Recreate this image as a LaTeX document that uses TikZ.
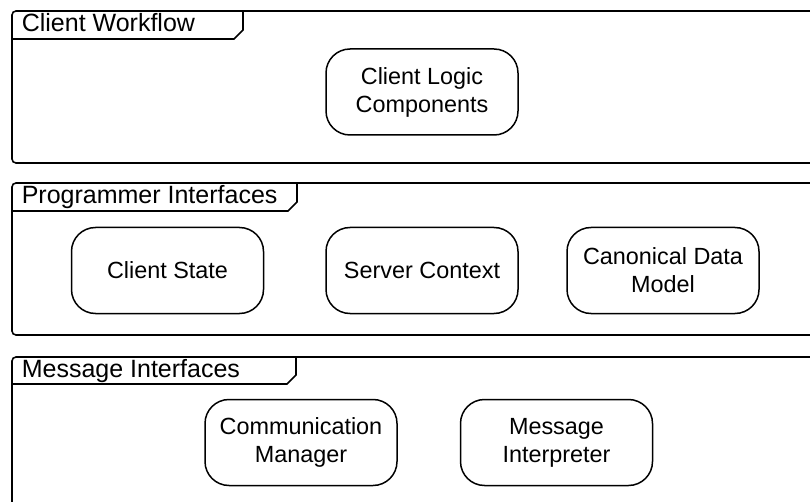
\documentclass[tikz,border=0pt]{standalone}
\usepackage{fontspec}
\setmainfont{Liberation Sans}
\begin{document}
\begin{tikzpicture}[x=1pt,y=-1pt,
  line width=1.6pt,
  comp/.style={draw, rounded corners=24pt, minimum width=192pt, minimum height=86pt,
    align=center, font=\fontsize{23.4}{28}\selectfont, inner sep=0pt, line width=1.5pt},
  frametitle/.style={anchor=base west, inner sep=0pt, font=\fontsize{25}{28}\selectfont}]
\useasboundingbox (0,0) rectangle (810,502);
\clip (0,0) rectangle (810,502);
% Frame 1
\draw[rounded corners=4pt] (830,163) -- (12,163) -- (12,11) -- (830,11);
\draw (12,39) -- (234,39) -- (243,30) -- (243,11);
\node[frametitle] (t1) at (21,32) {Client Workflow};
% Frame 2
\draw[rounded corners=4pt] (830,335) -- (12,335) -- (12,183) -- (830,183);
\draw (12,211) -- (288,211) -- (297,202) -- (297,183);
\node[frametitle] (t2) at (21,204) {Programmer Interfaces};
% Frame 3
\draw[rounded corners=4pt] (12,530) -- (12,357) -- (830,357);
\draw (12,384) -- (287,384) -- (296,375) -- (296,357);
\node[frametitle] (t3) at (21,377) {Message Interfaces};
% Components
\node[comp] (clc) at (422,92) {Client Logic\\Components};
\node[comp] (cs) at (167.5,270.5) {Client State};
\node[comp] (sc) at (422,270.5) {Server Context};
\node[comp] (cdm) at (663,270.5) {Canonical Data\\Model};
\node[comp] (cm) at (301,442.5) {Communication\\Manager};
\node[comp] (mi) at (556.5,442.5) {Message\\Interpreter};
\end{tikzpicture}
\end{document}
